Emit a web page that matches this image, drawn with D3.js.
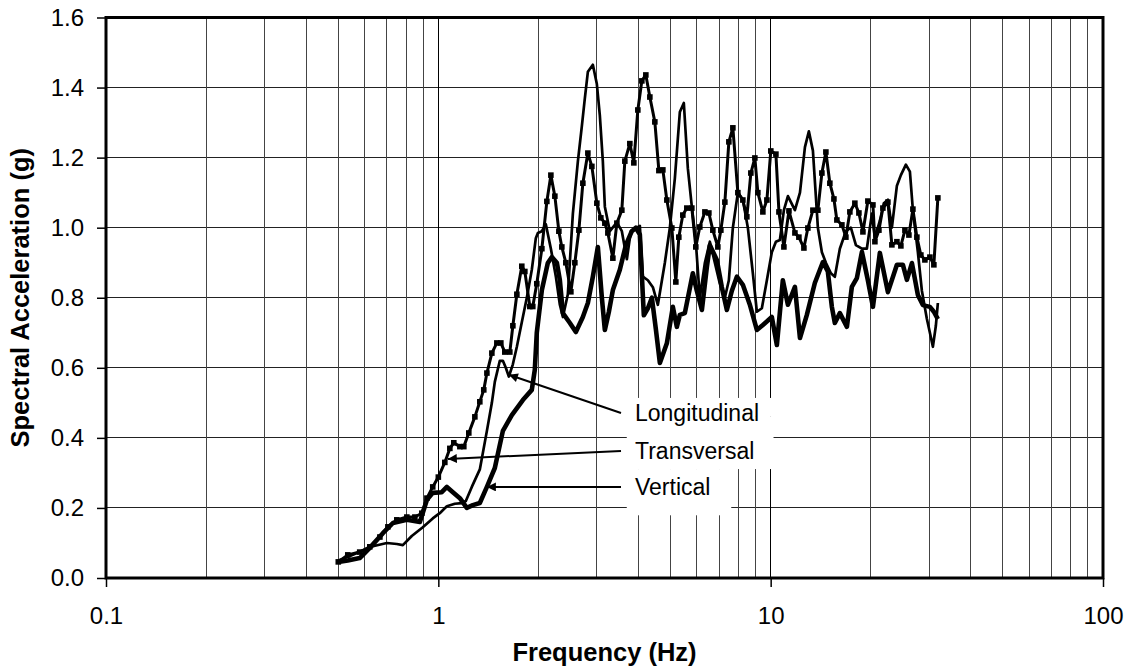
<!DOCTYPE html>
<html><head><meta charset="utf-8">
<script src="https://cdn.jsdelivr.net/npm/d3@7/dist/d3.min.js"></script>
<style>
body{margin:0;background:#fff;}
svg{display:block;font-family:Arial,"Liberation Sans",sans-serif;}
</style>
</head><body>
<svg id="chart" width="1129" height="669"></svg>
<script>
// ---------- data ----------
const yTicks = [0, 0.2, 0.4, 0.6, 0.8, 1.0, 1.2, 1.4, 1.6];
const xTicks = [0.1, 1, 10, 100];
const xTickLabels = ["0.1", "1", "10", "100"];
const xTitle = "Frequency (Hz)";
const yTitle = "Spectral Acceleration (g)";
const seriesNames = ["Longitudinal", "Transversal", "Vertical"];

const longFreq = [0.50,0.534,0.580,0.631,0.700,0.750,0.782,0.832,0.898,0.962,1.01,1.061,1.121,1.177,1.210,1.261,1.333,1.400,1.449,1.479,1.531,1.564,1.596,1.630,1.676,1.723,1.783,1.846,1.911,1.965,1.993,2.049,2.106,2.181,2.258,2.321,2.370,2.453,2.540,2.630,2.703,2.760,2.818,2.917,2.999,3.062,3.126,3.170,3.282,3.445,3.566,3.692,3.795,3.956,4.040,4.125,4.271,4.421,4.577,4.804,4.974,5.148,5.330,5.479,5.633,5.791,5.953,6.120,6.340,6.562,6.793,7.032,7.281,7.485,7.696,7.967,8.247,8.538,8.839,9.088,9.408,9.741,10.08,10.37,10.66,10.96,11.27,11.83,12.25,12.68,13.03,13.40,13.87,14.26,14.66,15.18,15.60,16.15,16.84,17.43,18.05,18.82,19.47,20.17,20.59,21.31,21.91,22.53,23.16,23.98,24.65,25.52,26.24,26.79,27.73,28.51,29.51,30.14,30.77,31.41,31.85];
const longVal = [0.05,0.06,0.075,0.09,0.10,0.097,0.094,0.12,0.145,0.17,0.185,0.205,0.212,0.214,0.22,0.26,0.31,0.42,0.50,0.56,0.62,0.62,0.60,0.575,0.61,0.66,0.73,0.80,0.88,0.97,0.985,0.99,1.01,0.94,0.86,0.78,0.745,0.81,1.04,1.19,1.29,1.37,1.445,1.465,1.41,1.32,1.19,1.06,0.99,1.015,0.99,0.91,0.99,1.0,1.005,0.86,0.85,0.83,0.78,0.90,1.00,1.14,1.33,1.356,1.17,1.06,0.96,0.80,0.90,0.96,0.90,0.84,0.80,0.85,1.0,1.10,1.08,1.0,0.87,0.76,0.77,0.85,0.93,0.96,0.965,1.05,1.09,1.05,1.10,1.23,1.275,1.22,1.0,0.93,0.90,0.87,0.86,0.94,0.99,1.00,0.95,0.94,0.94,1.04,0.97,1.02,1.07,1.08,1.0,1.12,1.15,1.18,1.16,1.05,0.93,0.82,0.74,0.70,0.66,0.72,0.785];

const transFreq = [0.50,0.534,0.580,0.622,0.667,0.705,0.750,0.804,0.850,0.892,0.924,0.962,1.00,1.046,1.083,1.113,1.161,1.193,1.235,1.288,1.333,1.370,1.400,1.449,1.500,1.542,1.585,1.641,1.676,1.723,1.783,1.821,1.885,1.924,1.978,2.049,2.121,2.181,2.242,2.305,2.353,2.419,2.505,2.575,2.648,2.722,2.818,2.897,2.999,3.083,3.170,3.237,3.351,3.445,3.566,3.641,3.769,3.875,3.984,4.096,4.211,4.330,4.482,4.609,4.738,4.871,5.043,5.184,5.292,5.441,5.594,5.791,5.953,6.120,6.340,6.517,6.699,6.935,7.081,7.281,7.485,7.696,7.967,8.247,8.479,8.717,8.963,9.151,9.474,9.741,10.01,10.37,10.59,10.96,11.35,11.83,12.16,12.59,12.94,13.40,13.87,14.26,14.66,15.07,15.50,15.82,16.38,16.84,17.31,17.92,18.43,18.95,19.61,20.31,20.59,21.17,21.76,22.53,23.16,23.98,24.65,25.35,26.06,26.79,27.54,28.31,29.11,30.14,30.98,31.85];
const transVal = [0.046,0.066,0.074,0.089,0.117,0.146,0.166,0.174,0.174,0.185,0.228,0.26,0.288,0.33,0.37,0.386,0.375,0.375,0.414,0.46,0.503,0.537,0.585,0.642,0.671,0.671,0.645,0.645,0.72,0.81,0.89,0.875,0.775,0.775,0.84,0.94,1.075,1.15,1.09,0.99,0.945,0.90,0.817,0.90,0.993,1.127,1.213,1.175,1.07,1.028,1.013,0.985,0.913,1.013,1.05,1.19,1.24,1.185,1.336,1.419,1.436,1.373,1.302,1.163,1.165,1.079,0.999,0.845,0.973,1.036,1.056,1.056,0.945,1.002,1.045,1.042,0.993,0.945,0.993,1.073,1.245,1.285,1.10,1.079,1.031,1.156,1.199,1.10,1.045,1.079,1.219,1.21,1.045,0.945,1.048,0.985,0.973,0.942,0.999,1.05,1.05,1.156,1.216,1.127,1.082,1.022,1.008,0.973,1.045,1.07,1.042,0.988,1.076,1.065,0.96,0.993,1.056,1.073,0.951,0.96,0.948,0.993,0.979,1.053,0.973,0.922,0.908,0.916,0.894,1.085];

const vertFreq = [0.50,0.534,0.580,0.622,0.681,0.730,0.804,0.880,0.924,0.962,1.024,1.061,1.106,1.161,1.218,1.270,1.333,1.400,1.479,1.564,1.664,1.796,1.911,1.951,1.978,2.049,2.135,2.196,2.273,2.321,2.370,2.488,2.593,2.722,2.818,2.917,3.020,3.105,3.170,3.260,3.351,3.517,3.666,3.821,3.929,4.040,4.153,4.271,4.391,4.514,4.641,4.871,5.078,5.220,5.330,5.517,5.832,5.995,6.209,6.427,6.562,6.887,7.130,7.382,7.643,7.912,8.247,8.657,9.088,9.474,10.08,10.44,10.88,11.27,11.83,12.25,12.85,13.58,14.36,14.86,15.28,15.60,16.15,16.96,17.55,18.17,18.82,19.61,20.31,21.31,22.53,23.98,25.00,25.70,26.61,27.73,28.71,30.14,30.98,31.85];
const vertVal = [0.046,0.05,0.057,0.086,0.128,0.157,0.166,0.16,0.223,0.243,0.245,0.26,0.245,0.228,0.20,0.208,0.214,0.26,0.314,0.42,0.465,0.508,0.537,0.594,0.70,0.822,0.899,0.916,0.90,0.85,0.756,0.728,0.702,0.745,0.785,0.86,0.945,0.80,0.708,0.76,0.822,0.88,0.95,0.99,1.0,0.98,0.75,0.77,0.80,0.71,0.614,0.67,0.774,0.717,0.751,0.756,0.87,0.82,0.765,0.888,0.95,0.908,0.83,0.765,0.82,0.86,0.837,0.78,0.708,0.722,0.745,0.665,0.85,0.78,0.831,0.685,0.751,0.842,0.902,0.875,0.774,0.728,0.756,0.717,0.831,0.856,0.931,0.85,0.774,0.928,0.816,0.894,0.894,0.851,0.899,0.808,0.779,0.774,0.76,0.739];

// annotation: arrow tip in data units, label row
const annTipFreq = [1.63, 1.068, 1.40];
const annTipVal = [0.58, 0.34, 0.26];
const annRowVal = [0.471, 0.3626, 0.26];

// ---------- layout ----------
const W = 1129, H = 669;
const m = {l: 106, t: 17.5, r: 26, b: 91};
const FONT = "Arial, 'Liberation Sans', sans-serif";
const svg = d3.select("#chart");
const x = d3.scaleLog().domain([0.1, 100]).range([m.l, W - m.r]);
const y = d3.scaleLinear().domain([0, 1.6]).range([H - m.b, m.t]);

const grid = svg.append("g");
grid.selectAll("line.h").data(yTicks.slice(1, -1)).join("line")
  .attr("x1", m.l).attr("x2", W - m.r)
  .attr("y1", d => y(d)).attr("y2", d => y(d))
  .attr("stroke", "#222").attr("stroke-width", 1).attr("shape-rendering", "crispEdges");
const vLines = [];
[0.1, 1, 10].forEach(dec => { for (let k = 1; k <= 9; k++) vLines.push(dec * k); });
grid.selectAll("line.v").data(vLines.filter(v => v > 0.1)).join("line")
  .attr("x1", d => x(d)).attr("x2", d => x(d))
  .attr("y1", m.t).attr("y2", H - m.b)
  .attr("stroke", d => (Math.abs(Math.log10(d) - Math.round(Math.log10(d))) < 1e-9) ? "#000" : "#444")
  .attr("stroke-width", 1).attr("shape-rendering", "crispEdges");

// white label boxes (cover grid)
const boxes = [
  {x0: 3.69, x1: 10.9, v0: 0.46, v1: 0.514},
  {x0: 3.69, x1: 10.2, v0: 0.311, v1: 0.46},
  {x0: 3.69, x1: 7.61, v0: 0.179, v1: 0.311}
];
svg.append("g").selectAll("rect").data(boxes).join("rect")
  .attr("x", d => x(d.x0)).attr("width", d => x(d.x1) - x(d.x0))
  .attr("y", d => y(d.v1)).attr("height", d => y(d.v0) - y(d.v1))
  .attr("fill", "#fff");

// axes ticks & labels
const axG = svg.append("g");
const yAxis = d3.axisLeft(y).tickValues(yTicks).tickFormat(d3.format(".1f")).tickSize(9).tickPadding(13);
axG.append("g").attr("transform", `translate(${m.l},0)`).call(yAxis)
  .call(g => g.select(".domain").remove())
  .call(g => g.selectAll("text").attr("font-size", 24).attr("fill", "#000").attr("font-family", FONT))
  .call(g => g.selectAll("line").attr("stroke", "#000").attr("stroke-width", 1.5));
const xAxis = d3.axisBottom(x).tickValues(xTicks).tickFormat((d, i) => xTickLabels[i]).tickSize(9).tickPadding(20);
axG.append("g").attr("transform", `translate(0,${H - m.b})`).call(xAxis)
  .call(g => g.select(".domain").remove())
  .call(g => g.selectAll("text").attr("font-size", 24).attr("fill", "#000").attr("font-family", FONT))
  .call(g => g.selectAll("line").attr("stroke", "#000").attr("stroke-width", 1.5));

// titles
svg.append("text").attr("x", (m.l + W - m.r) / 2).attr("y", 661)
  .attr("text-anchor", "middle").attr("font-weight", "bold").attr("font-size", 25.5).text(xTitle);
svg.append("text").attr("transform", `translate(29,${(m.t + H - m.b) / 2}) rotate(-90)`)
  .attr("text-anchor", "middle").attr("font-weight", "bold").attr("font-size", 25.5).text(yTitle);

// series
const mk = (fs, vs) => fs.map((f, i) => [f, vs[i]]);
const longData = mk(longFreq, longVal), transData = mk(transFreq, transVal), vertData = mk(vertFreq, vertVal);
const line = d3.line().x(d => x(d[0])).y(d => y(d[1]));
const sg = svg.append("g").attr("fill", "none").attr("stroke", "#000").attr("stroke-linejoin", "round");
sg.append("path").datum(vertData).attr("d", line).attr("stroke-width", 4.6);
sg.append("path").datum(longData).attr("d", line).attr("stroke-width", 2.7);
sg.append("path").datum(transData).attr("d", line).attr("stroke-width", 3);
svg.append("g").selectAll("rect").data(transData).join("rect")
  .attr("x", d => x(d[0]) - 2.8).attr("y", d => y(d[1]) - 2.8)
  .attr("width", 5.6).attr("height", 5.6).attr("fill", "#000");

// frame
svg.append("rect").attr("x", m.l).attr("y", m.t).attr("width", W - m.r - m.l).attr("height", H - m.b - m.t)
  .attr("fill", "none").attr("stroke", "#000").attr("stroke-width", 3);

// annotations
const defs = svg.append("defs");
defs.append("marker").attr("id", "ah").attr("viewBox", "0 0 10 10").attr("refX", 10).attr("refY", 5)
  .attr("markerWidth", 13).attr("markerHeight", 9).attr("markerUnits", "userSpaceOnUse").attr("orient", "auto")
  .append("path").attr("d", "M0,0L10,5L0,10Z").attr("fill", "#000");
const annX = 621, txtX = 635;
const ag = svg.append("g");
seriesNames.forEach((name, i) => {
  ag.append("line").attr("x1", annX).attr("y1", y(annRowVal[i]))
    .attr("x2", x(annTipFreq[i])).attr("y2", y(annTipVal[i]))
    .attr("stroke", "#000").attr("stroke-width", 2).attr("marker-end", "url(#ah)");
  ag.append("text").attr("x", txtX).attr("y", y(annRowVal[i])).attr("dy", "0.36em")
    .attr("font-size", 23).attr("font-family", FONT).text(name);
});
</script>
</body></html>
